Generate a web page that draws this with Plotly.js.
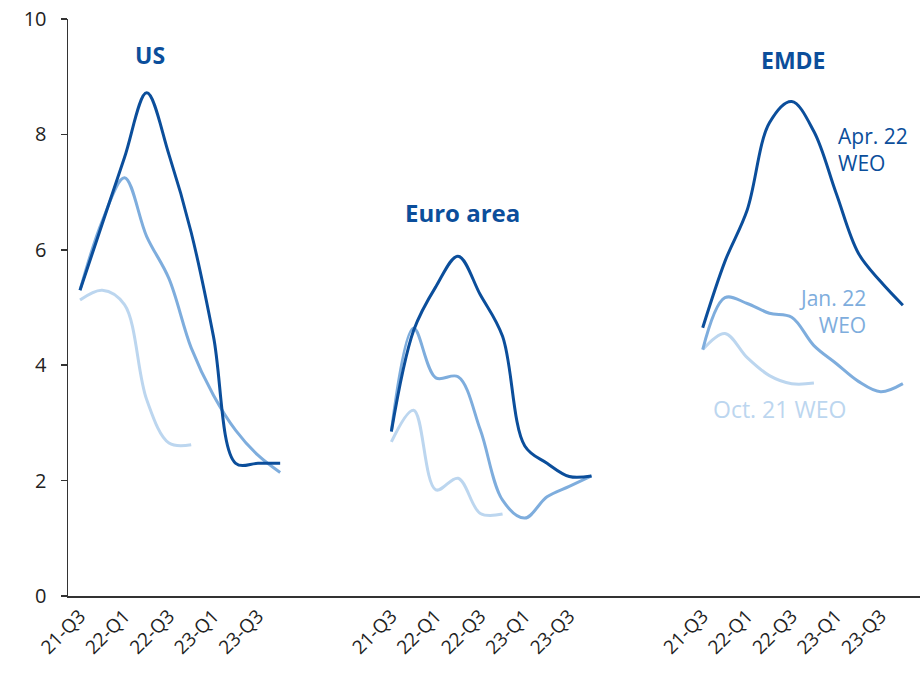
<!DOCTYPE html>
<html>
<head>
<meta charset="utf-8">
<script src="https://cdn.plot.ly/plotly-3.0.1.min.js"></script>
<style>html,body{margin:0;padding:0;background:#fff;}#chart{width:920px;height:673px;}</style>
</head>
<body>
<div id="chart"></div>
<script>
// Quarters shown in each panel
const quarters = ["21-Q3","21-Q4","22-Q1","22-Q2","22-Q3","22-Q4","23-Q1","23-Q2","23-Q3","23-Q4"];
const tickQuarters = ["21-Q3","22-Q1","22-Q3","23-Q1","23-Q3"];
const regions = ["US", "Euro area", "EMDE"];
const vintages = ["Oct. 21 WEO", "Jan. 22 WEO", "Apr. 22 WEO"];

// Inflation projections (percent)
const usOct21   = [5.13, 5.3, 5.05, 3.4, 2.65, 2.62];
const usJan22   = [5.3, 6.5, 7.25, 6.23, 5.5, 4.3, 3.48, 2.87, 2.44, 2.14];
const usApr22   = [5.3, 6.45, 7.6, 8.72, 7.65, 6.3, 4.5, 2.3, 2.3, 2.3];

const euroOct21 = [2.67, 3.22, 1.84, 2.04, 1.43, 1.42];
const euroJan22 = [2.85, 4.64, 3.78, 3.8, 2.88, 1.66, 1.35, 1.72, 1.9, 2.08];
const euroApr22 = [2.85, 4.6, 5.36, 5.89, 5.22, 4.5, 2.6, 2.3, 2.07, 2.08];

const emdeOct21 = [4.27, 4.55, 4.13, 3.82, 3.68, 3.69];
const emdeJan22 = [4.27, 5.17, 5.07, 4.9, 4.83, 4.34, 4.03, 3.72, 3.54, 3.68];
const emdeApr22 = [4.65, 5.8, 6.69, 8.2, 8.57, 8.05, 6.98, 5.94, 5.45, 5.04];

const seriesByRegion = [
  [usOct21, usJan22, usApr22],
  [euroOct21, euroJan22, euroApr22],
  [emdeOct21, emdeJan22, emdeApr22]
];

const GROUP_STEP = 14; // slot offset between panels (10 quarters + gap)
const colors = ["#bcd6ef", "#7eaddd", "#0b4e9b"];
const widths = [3, 3, 3];

const traces = [];
seriesByRegion.forEach((set, g) => {
  set.forEach((vals, v) => {
    traces.push({
      type: "scatter", mode: "lines",
      name: regions[g] + " " + vintages[v],
      x: vals.map((_, i) => g * GROUP_STEP + i),
      y: vals,
      text: vals.map((_, i) => quarters[i]),
      line: {color: colors[v], width: widths[v], shape: "spline", smoothing: 1},
      showlegend: false,
      hoverinfo: "text+y"
    });
  });
});

const tickvals = [], ticktext = [];
regions.forEach((r, g) => {
  tickQuarters.forEach(q => {
    tickvals.push(g * GROUP_STEP + quarters.indexOf(q));
    ticktext.push(q);
  });
});

const FONT = "'Open Sans', 'Noto Sans', sans-serif";
const lbl = (x, y, text, color, size, anchor) => ({
  x: x, y: y, text: text, xanchor: anchor || "center", align: anchor || "center",
  showarrow: false, font: {size: size, color: color, family: FONT}
});
const layout = {
  width: 920, height: 673,
  margin: {l: 68, r: 0, t: 19, b: 77},
  paper_bgcolor: "#fff", plot_bgcolor: "#fff",
  font: {family: FONT, color: "#222"},
  xaxis: {
    range: [-0.54, 37.77], tickmode: "array", tickvals: tickvals, ticktext: ticktext,
    tickangle: -45, tickfont: {size: 19, color: "#222", family: FONT},
    showgrid: false, zeroline: false, showline: true, linecolor: "#333", linewidth: 1.5,
    ticks: "", fixedrange: true
  },
  yaxis: {
    range: [0, 10], dtick: 2, tickfont: {size: 20, color: "#222", family: FONT},
    showgrid: false, zeroline: false, showline: true, linecolor: "#333", linewidth: 1.5,
    ticks: "outside", ticklen: 6, tickcolor: "#333", tickwidth: 1.5, fixedrange: true,
    ticklabelstandoff: 10
  },
  annotations: [
    lbl(3.15, 9.38, "<b>US</b>", "#0b4e9b", 23),
    lbl(17.2, 6.64, "<b>Euro area</b>", "#0b4e9b", 24),
    lbl(32.05, 9.29, "<b>EMDE</b>", "#0b4e9b", 23),
    lbl(34.0, 7.74, "Apr. 22<br>WEO", "#0b4e9b", 21, "left"),
    lbl(35.43, 4.93, "Jan. 22<br>WEO", "#7eaddd", 21, "right"),
    lbl(31.47, 3.24, "Oct. 21 WEO", "#bcd6ef", 23)
  ]
};

Plotly.newPlot("chart", traces, layout, {displayModeBar: false, staticPlot: true});
</script>
</body>
</html>
